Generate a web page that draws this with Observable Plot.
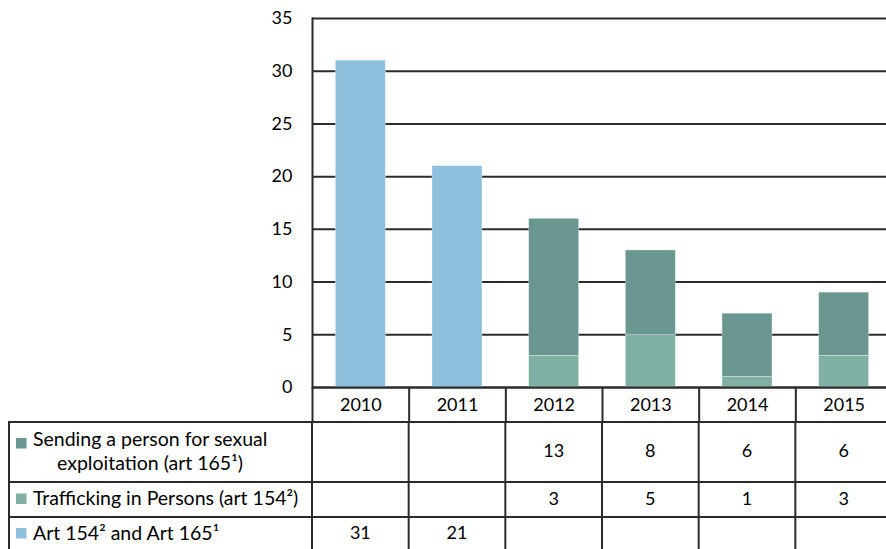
<!DOCTYPE html>
<html><head><meta charset="utf-8">
<script src="https://cdn.jsdelivr.net/npm/d3@7"></script>
<script src="https://cdn.jsdelivr.net/npm/@observablehq/plot@0.6"></script>
<style>
body{margin:0;overflow:hidden;background:#fff;}
#wrap{position:relative;width:886px;height:549px;overflow:hidden;font-family:Lato,sans-serif;}
#wrap svg{display:block;max-width:none !important;}
</style></head><body><div id="wrap"></div>
<script>
const years = ["2010", "2011", "2012", "2013", "2014", "2015"];
const seriesLabels = ["Sending a person for sexual exploitation (art 165¹)", "Trafficking in Persons (art 154²)", "Art 154² and Art 165¹"];
const sendingValues = [null, null, 13, 8, 6, 6];
const traffickingValues = [null, null, 3, 5, 1, 3];
const combinedValues = [31, 21, null, null, null, null];
const seriesColors = ["#6A978F", "#80B0A3", "#8CC0DD"];
const yTicks = [0, 5, 10, 15, 20, 25, 30, 35];

// table rows in display order (top to bottom)
const tableRows = [
  {label: seriesLabels[0], lines: ["Sending a person for sexual", "exploitation (art 165¹)"], values: sendingValues, color: seriesColors[0]},
  {label: seriesLabels[1], lines: ["Trafficking in Persons (art 154²)"], values: traffickingValues, color: seriesColors[1]},
  {label: seriesLabels[2], lines: ["Art 154² and Art 165¹"], values: combinedValues, color: seriesColors[2]}
];

// stacked data: bottom to top = combined, trafficking, sending
const data = [];
years.forEach((yr, i) => {
  [[seriesLabels[2], combinedValues], [seriesLabels[1], traffickingValues], [seriesLabels[0], sendingValues]].forEach(([s, arr]) => {
    if (arr[i] != null) data.push({year: yr, series: s, value: arr[i]});
  });
});

const W = 892, ML = 312, MT = 18, MB = 34, H = 421;
const step = (W - ML) / years.length;
const lineColor = "#2b2b2b";
const font = "Lato, sans-serif";
const fs = 18;
const labelFs = 19.5;

const plot = Plot.plot({
  width: W, height: H,
  marginLeft: ML, marginRight: 0, marginTop: MT, marginBottom: MB,
  style: {fontFamily: font, fontSize: fs + "px", color: "#000", background: "transparent", maxWidth: "none"},
  x: {domain: years, paddingInner: 0.483, paddingOuter: 0.2415, round: false, label: null},
  y: {domain: [0, 35], label: null},
  color: {domain: seriesLabels, range: seriesColors},
  marks: [
    Plot.gridY(yTicks, {stroke: lineColor, strokeOpacity: 1, strokeWidth: 2}),
    Plot.barY(data, {x: "year", y: "value", fill: "series", z: "series", stroke: "#fff", strokeOpacity: 0.5, strokeWidth: 0.6}),
    Plot.ruleY([0], {stroke: lineColor, strokeWidth: 2}),
    Plot.frame({anchor: "left", stroke: lineColor, strokeWidth: 2}),
    Plot.axisY(yTicks, {tickSize: 0, tickPadding: 20, fontSize: fs, fill: "#000", label: null}),
    Plot.axisX({tickSize: MB, dx: -step / 2, text: null, stroke: lineColor, strokeWidth: 2, label: null}),
    Plot.axisX({tickSize: 0, tickPadding: 11, fontSize: fs, fill: "#000", label: null})
  ]
});
document.getElementById("wrap").appendChild(plot);

// data table below
const xScale = plot.scale("x");
const colEdges = [9, ...years.map((y, i) => ML + i * step), W];
const rowEdges = [0, 60, 95];
const tH = 549 - H + 10;
const svg = d3.select("#wrap").append("svg")
  .attr("width", W).attr("height", tH)
  .style("font-family", font).style("font-size", fs + "px");

rowEdges.forEach(y => svg.append("line").attr("x1", 9).attr("x2", W).attr("y1", y + 1).attr("y2", y + 1)
  .attr("stroke", lineColor).attr("stroke-width", 2));
colEdges.forEach(x => svg.append("line").attr("x1", x).attr("x2", x).attr("y1", 0).attr("y2", tH)
  .attr("stroke", lineColor).attr("stroke-width", 2));

const rowCenters = [30, 77.5, 112];
tableRows.forEach((r, ri) => {
  const cy = rowCenters[ri];
  const sqY = r.lines.length > 1 ? cy - 13 : cy - 5;
  svg.append("rect").attr("x", 16).attr("y", sqY).attr("width", 10.5).attr("height", 10.5).attr("fill", r.color);
  const label = svg.append("g").style("font-size", labelFs + "px");
  if (r.lines.length > 1) {
    label.append("text").attr("x", 33).attr("y", cy - 12).attr("dy", "0.35em").text(r.lines[0]);
    label.append("text").attr("x", 57).attr("y", cy + 12).attr("dy", "0.35em").text(r.lines[1]);
  } else {
    label.append("text").attr("x", 33).attr("y", cy).attr("dy", "0.35em").text(r.lines[0]);
  }
  r.values.forEach((v, i) => {
    if (v == null) return;
    svg.append("text").attr("x", xScale.apply(years[i]) + xScale.bandwidth / 2).attr("y", cy)
      .attr("dy", "0.35em").attr("text-anchor", "middle").text(v);
  });
});
</script></body></html>
